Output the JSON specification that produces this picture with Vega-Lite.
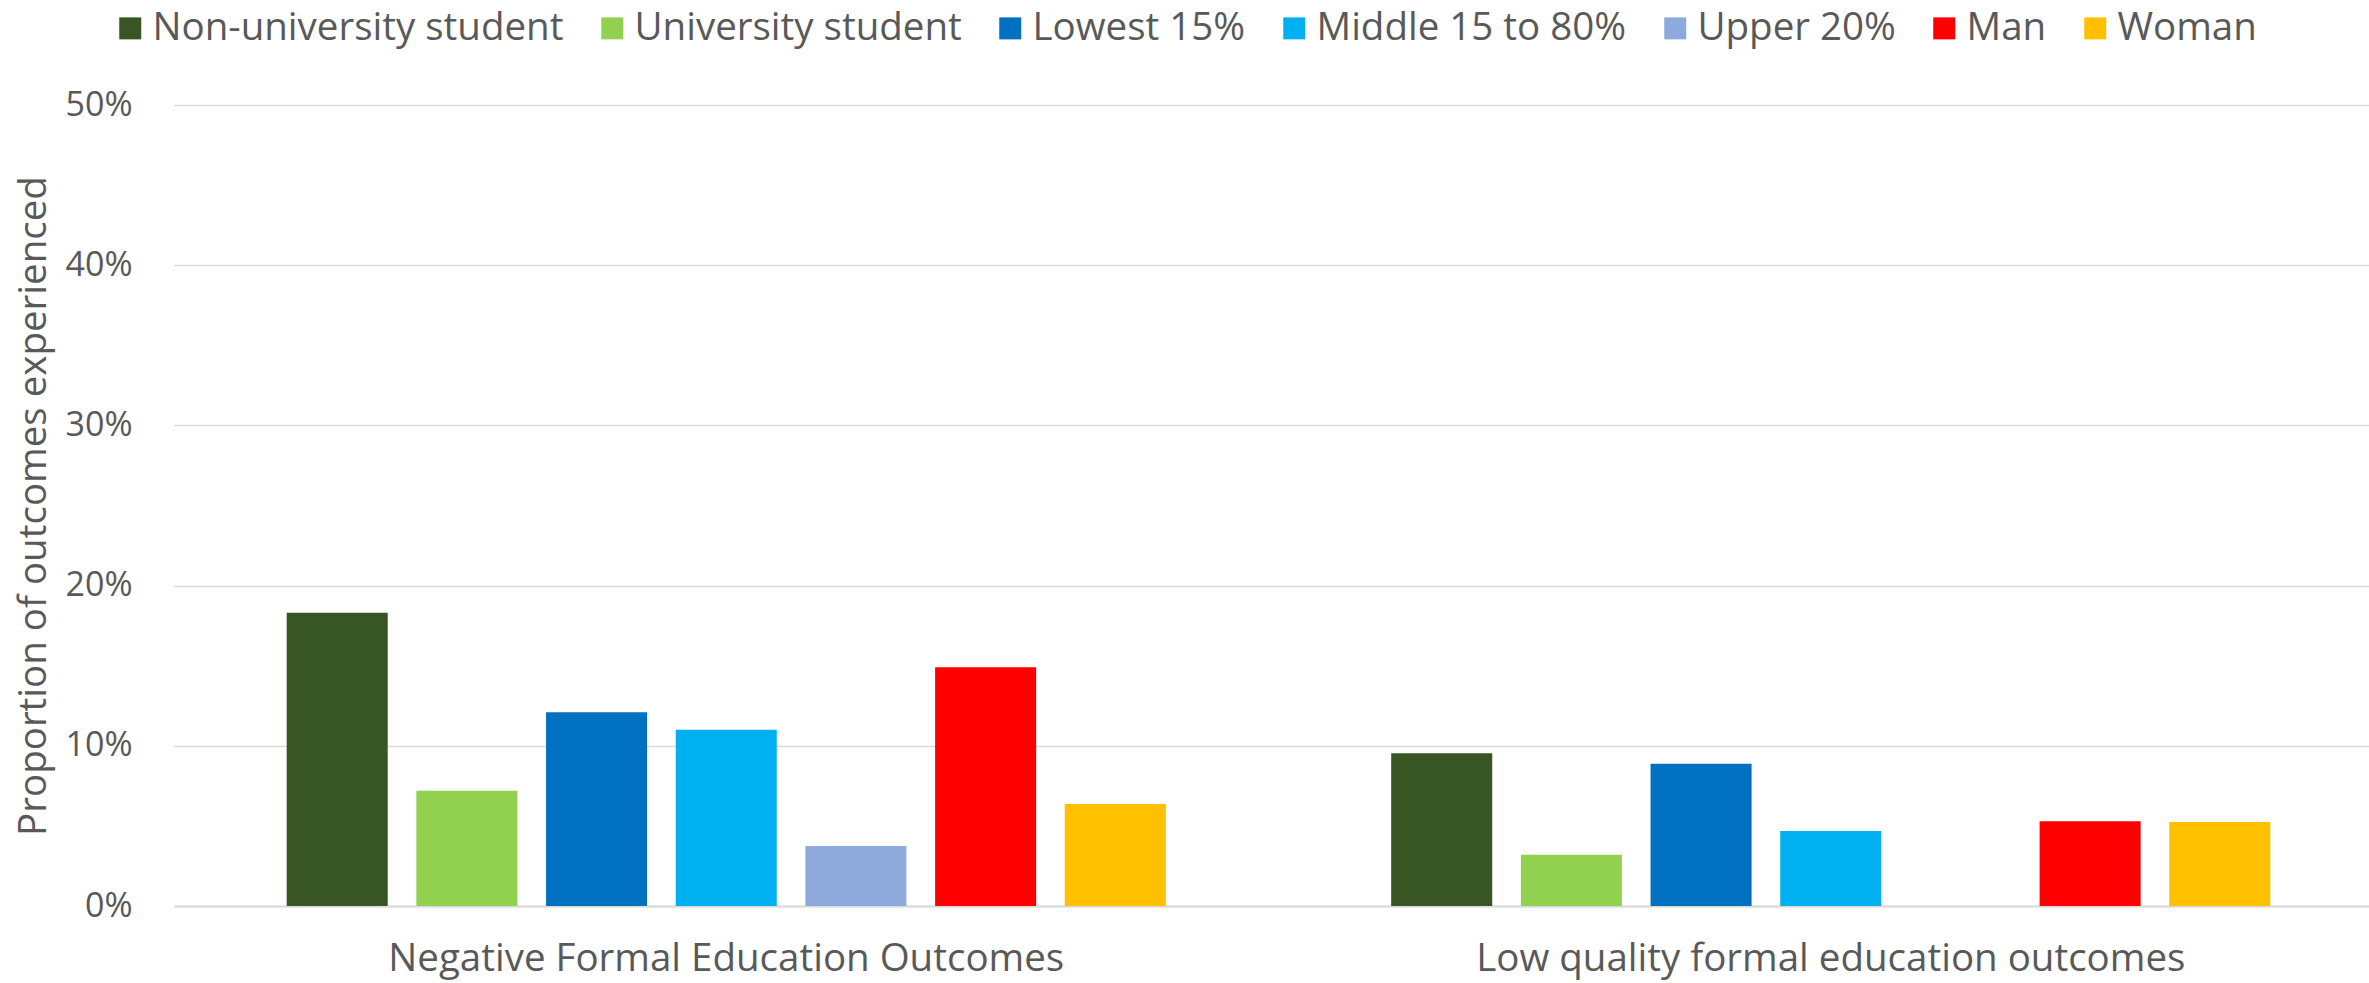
{
  "$schema": "https://vega.github.io/schema/vega-lite/v6.json",
  "autosize": {"type": "none"},
  "width": 2195,
  "height": 801,
  "padding": {"left": 174, "top": 105, "right": 0, "bottom": 77},
  "background": "white",
  "config": {
    "view": {"stroke": null},
    "font": "Open Sans",
    "axis": {"labelColor": "#595959", "titleColor": "#595959", "labelFont": "Open Sans", "titleFont": "Open Sans"},
    "legend": {"labelColor": "#595959", "labelFont": "Open Sans"}
  },
  "data": {
    "values": [
      {"outcome": "Negative Formal Education Outcomes", "group": "Non-university student", "value": 0.183},
      {"outcome": "Negative Formal Education Outcomes", "group": "University student", "value": 0.072},
      {"outcome": "Negative Formal Education Outcomes", "group": "Lowest 15%", "value": 0.121},
      {"outcome": "Negative Formal Education Outcomes", "group": "Middle 15 to 80%", "value": 0.110},
      {"outcome": "Negative Formal Education Outcomes", "group": "Upper 20%", "value": 0.0375},
      {"outcome": "Negative Formal Education Outcomes", "group": "Man", "value": 0.149},
      {"outcome": "Negative Formal Education Outcomes", "group": "Woman", "value": 0.0637},
      {"outcome": "Low quality formal education outcomes", "group": "Non-university student", "value": 0.0953},
      {"outcome": "Low quality formal education outcomes", "group": "University student", "value": 0.032},
      {"outcome": "Low quality formal education outcomes", "group": "Lowest 15%", "value": 0.0888},
      {"outcome": "Low quality formal education outcomes", "group": "Middle 15 to 80%", "value": 0.0468},
      {"outcome": "Low quality formal education outcomes", "group": "Upper 20%", "value": 0},
      {"outcome": "Low quality formal education outcomes", "group": "Man", "value": 0.0529},
      {"outcome": "Low quality formal education outcomes", "group": "Woman", "value": 0.0524}
    ]
  },
  "mark": {"type": "bar"},
  "encoding": {
    "x": {
      "field": "outcome",
      "type": "nominal",
      "sort": ["Negative Formal Education Outcomes", "Low quality formal education outcomes"],
      "scale": {"range": [0, 2209], "paddingInner": 0, "paddingOuter": 0},
      "axis": {
        "title": null,
        "labelAngle": 0,
        "ticks": false,
        "labelFontSize": 38.5,
        "labelPadding": 34,
        "labelLimit": 1000,
        "domain": true,
        "domainColor": "#d9d9d9",
        "domainWidth": 2,
        "grid": false
      }
    },
    "xOffset": {
      "field": "group",
      "type": "nominal",
      "sort": ["Non-university student", "University student", "Lowest 15%", "Middle 15 to 80%", "Upper 20%", "Man", "Woman"],
      "scale": {"paddingInner": 0.221, "paddingOuter": 0.869}
    },
    "y": {
      "field": "value",
      "type": "quantitative",
      "scale": {"domain": [0, 0.5], "nice": false},
      "axis": {
        "title": "Proportion of outcomes experienced",
        "titleFontSize": 38.5,
        "titleFontWeight": "normal",
        "titlePadding": 12,
        "format": ".0%",
        "values": [0, 0.1, 0.2, 0.3, 0.4, 0.5],
        "labelFontSize": 34,
        "labelPadding": 42,
        "ticks": false,
        "domain": false,
        "grid": true,
        "gridColor": "#d9d9d9",
        "gridWidth": 1.5
      }
    },
    "color": {
      "field": "group",
      "type": "nominal",
      "scale": {
        "domain": ["Non-university student", "University student", "Lowest 15%", "Middle 15 to 80%", "Upper 20%", "Man", "Woman"],
        "range": ["#375623", "#92D050", "#0070C0", "#00B0F0", "#8EA9DB", "#FF0000", "#FFC000"]
      },
      "legend": {
        "title": null,
        "orient": "none",
        "direction": "horizontal",
        "columns": 7,
        "legendX": -63,
        "legendY": -96,
        "padding": 0,
        "symbolType": "square",
        "symbolSize": 484,
        "symbolStrokeWidth": 0,
        "symbolOpacity": 1,
        "labelFontSize": 38.5,
        "labelOffset": 3,
        "labelLimit": 1000,
        "columnPadding": 29
      }
    }
  }
}
